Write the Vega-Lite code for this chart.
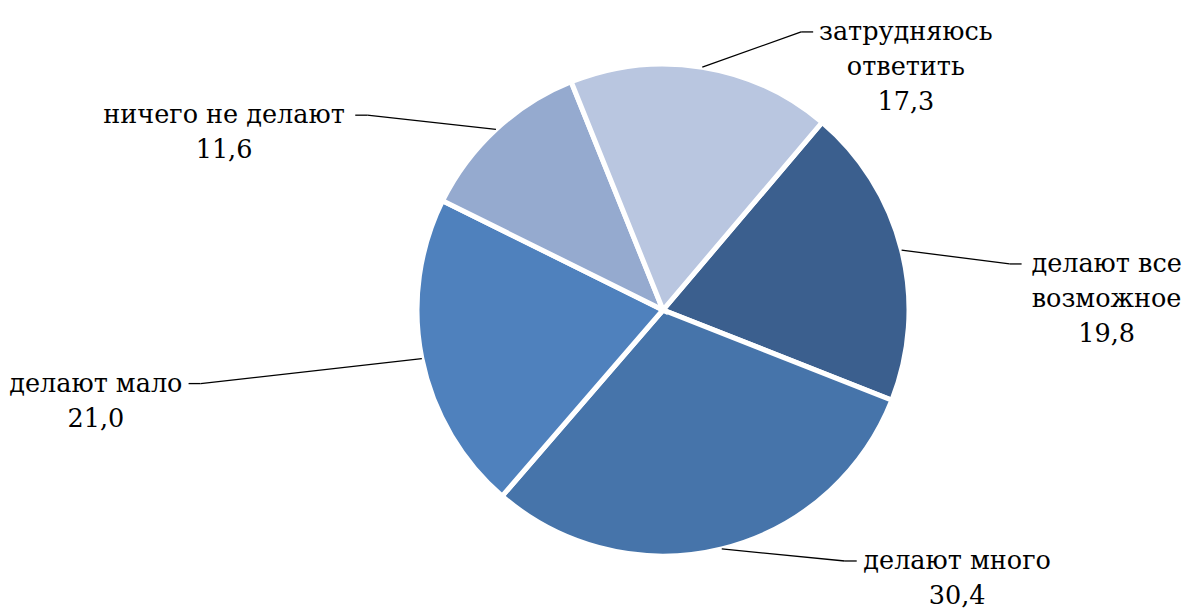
{
  "$schema": "https://vega.github.io/schema/vega-lite/v6.json",
  "width": 1042,
  "height": 600,
  "autosize": {"type": "none"},
  "padding": {"left": 142, "top": 10, "right": 0, "bottom": 0},
  "background": "white",
  "config": {"view": {"stroke": null}},
  "data": {
    "values": [
      {"name": "делают все возможное", "value": 19.8, "order": 1},
      {"name": "делают много", "value": 30.4, "order": 2},
      {"name": "делают мало", "value": 21.0, "order": 3},
      {"name": "ничего не делают", "value": 11.6, "order": 4},
      {"name": "затрудняюсь ответить", "value": 17.3, "order": 5}
    ]
  },
  "transform": [
    {"joinaggregate": [{"op": "sum", "field": "value", "as": "total"}]},
    {"window": [{"op": "sum", "field": "value", "as": "cum"}], "sort": [{"field": "order"}], "frame": [null, 0]},
    {"calculate": "0.7034 + 2*PI*(datum.cum - datum.value/2)/datum.total", "as": "mid"},
    {"calculate": "sin(datum.mid)", "as": "sx"},
    {"calculate": "cos(datum.mid)", "as": "sy"},
    {"calculate": "datum.sx > 0 ? 1 : -1", "as": "side"},
    {"calculate": "datum.sx > 0 ? 0.5 + datum.sx - 0.05*datum.sy : 0.277 - 2.25*abs(datum.sx)", "as": "tailX"},
    {"calculate": "1.096*datum.sy + 0.14*datum.sy*datum.sy - 0.088", "as": "knotY"},
    {"calculate": "datum.tailX - datum.side*12/246", "as": "kneeX"},
    {"calculate": "lastindexof(datum.name, ' ')", "as": "sp"},
    {"calculate": "replace(format(datum.value, '.1f'), '.', ',')", "as": "val"},
    {"calculate": "length(datum.name) > 17 ? [slice(datum.name, 0, datum.sp), slice(datum.name, datum.sp + 1), datum.val] : [datum.name, datum.val]", "as": "lines"},
    {"calculate": "length(datum.name) > 17 ? max(datum.sp, length(datum.name) - datum.sp - 1) : length(datum.name)", "as": "maxlen"},
    {"calculate": "datum.tailX + datum.side*(8 + datum.maxlen*7.7)/246", "as": "textX"}
  ],
  "layer": [
    {
      "mark": {"type": "arc", "outerRadius": 246, "stroke": "white", "strokeWidth": 5},
      "encoding": {
        "theta": {"field": "value", "type": "quantitative", "stack": true, "scale": {"range": [0.7034, 6.9866]}},
        "order": {"field": "order", "type": "quantitative"},
        "color": {
          "field": "name",
          "type": "nominal",
          "scale": {
            "domain": ["делают все возможное", "делают много", "делают мало", "ничего не делают", "затрудняюсь ответить"],
            "range": ["#3B5F8E", "#4674AA", "#4F81BD", "#95AACF", "#B9C6E0"]
          },
          "legend": null
        }
      }
    },
    {
      "mark": {"type": "rule", "color": "black", "strokeWidth": 1.3},
      "encoding": {
        "x": {"field": "sx", "type": "quantitative", "scale": {"domain": [-2.1179, 2.1179], "nice": false, "zero": false}, "axis": null},
        "y": {"field": "sy", "type": "quantitative", "scale": {"domain": [-1.2195, 1.2195], "nice": false, "zero": false}, "axis": null},
        "x2": {"field": "kneeX"},
        "y2": {"field": "knotY"}
      }
    },
    {
      "mark": {"type": "rule", "color": "black", "strokeWidth": 1.3},
      "encoding": {
        "x": {"field": "kneeX", "type": "quantitative", "scale": {"domain": [-2.1179, 2.1179], "nice": false, "zero": false}, "axis": null},
        "y": {"field": "knotY", "type": "quantitative", "scale": {"domain": [-1.2195, 1.2195], "nice": false, "zero": false}, "axis": null},
        "x2": {"field": "tailX"}
      }
    },
    {
      "mark": {"type": "text", "font": "DejaVu Serif", "fontSize": 25.5, "lineHeight": 35, "align": "center", "baseline": "alphabetic", "dy": 8, "color": "black"},
      "encoding": {
        "x": {"field": "textX", "type": "quantitative", "scale": {"domain": [-2.1179, 2.1179], "nice": false, "zero": false}, "axis": null},
        "y": {"field": "knotY", "type": "quantitative", "scale": {"domain": [-1.2195, 1.2195], "nice": false, "zero": false}, "axis": null},
        "text": {"field": "lines"}
      }
    }
  ]
}
